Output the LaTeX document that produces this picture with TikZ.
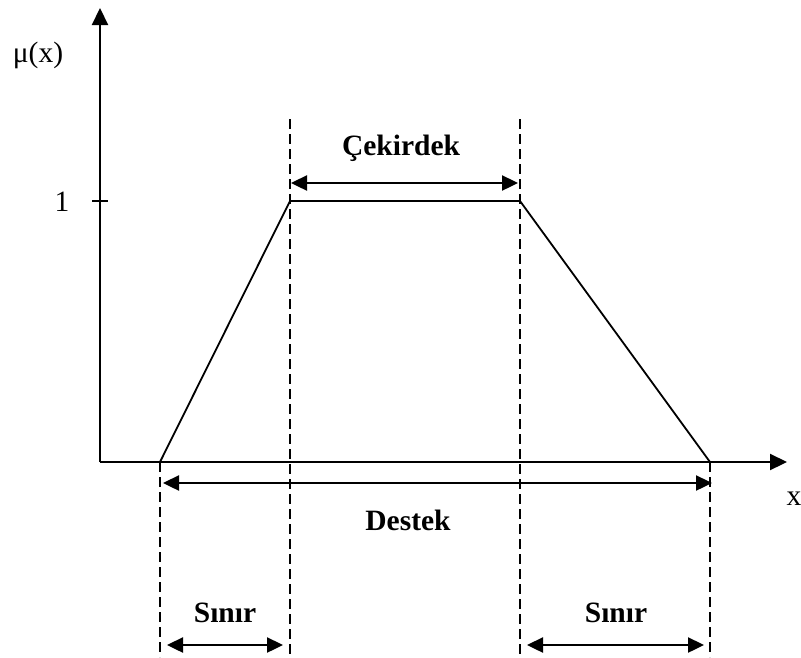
\documentclass[tikz,border=0pt]{standalone}
\usepackage{fontspec}
\setmainfont{Liberation Serif}
\usetikzlibrary{arrows.meta}
\begin{document}
\begin{tikzpicture}[x=1pt,y=-1pt,
  axis/.style={line width=2.2pt,-{Triangle[length=17pt,width=16pt]}},
  curve/.style={line width=1.8pt},
  guide/.style={line width=2pt,dash pattern=on 10pt off 5pt},
  dim/.style={line width=2.4pt,{Triangle[length=16pt,width=15pt]}-{Triangle[length=16pt,width=15pt]}},
  lbl/.style={font=\fontsize{29.5}{34}\selectfont, inner sep=0pt, anchor=base},
  blbl/.style={lbl, font=\fontsize{29.5}{34}\selectfont\bfseries}]
\useasboundingbox (0,0) rectangle (801,657);
% coordinates
\coordinate (O) at (100,462);
\coordinate (Ytop) at (100,8);
\coordinate (Xend) at (787,462);
\coordinate (A) at (160,462);
\coordinate (B) at (290,201);
\coordinate (C) at (520,201);
\coordinate (D) at (710,462);
\coordinate (Bt) at (290,119);
\coordinate (Bb) at (290,657);
\coordinate (Ct) at (520,119);
\coordinate (Cb) at (520,657);
\coordinate (Ab) at (160,657);
\coordinate (Db) at (710,657);
\coordinate (T1) at (92,201);
\coordinate (T2) at (108,201);
% axes
\draw[axis] (O) -- (Ytop);
\draw[axis] (O) -- (Xend);
\draw[line width=1.8pt] (T1) -- (T2);
% trapezoid
\draw[curve] (A) -- (B) -- (C) -- (D);
% guides
\draw[guide] (Bt) -- (Bb);
\draw[guide] (Ct) -- (Cb);
\draw[guide] (A) -- (Ab);
\draw[guide] (D) -- (Db);
% dimension arrows
\coordinate (ck1) at (291,183);
\coordinate (ck2) at (518,183);
\coordinate (ds1) at (163,483);
\coordinate (ds2) at (712,483);
\coordinate (s11) at (167,645);
\coordinate (s12) at (283,645);
\coordinate (s21) at (527,645);
\coordinate (s22) at (704,645);
\draw[dim] (ck1) -- (ck2);
\draw[dim] (ds1) -- (ds2);
\draw[dim] (s11) -- (s12);
\draw[dim] (s21) -- (s22);
% labels
\node[lbl] (mu) at (38,62) {μ(x)};
\node[lbl] (one) at (62,211) {1};
\node[lbl] (xl) at (794,505) {x};
\node[blbl] (cek) at (401,155) {Çekirdek};
\node[blbl] (des) at (408,530) {Destek};
\node[blbl] (sn1) at (225,622) {Sınır};
\node[blbl] (sn2) at (616,622) {Sınır};
\end{tikzpicture}
\end{document}
